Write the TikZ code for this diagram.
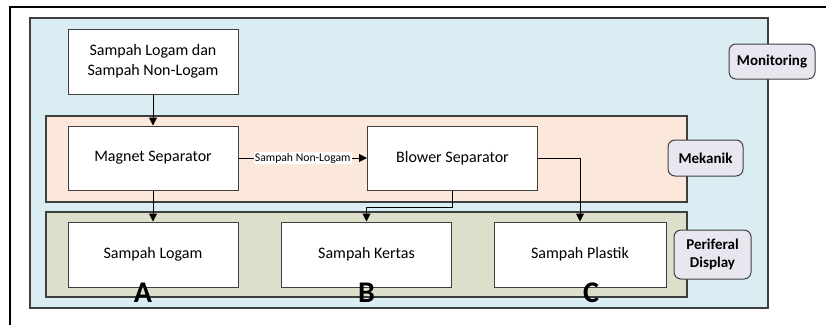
\documentclass[tikz,border=0pt]{standalone}
\usepackage{fontspec}
\setmainfont{Carlito}
\usepackage{tikz}
\usetikzlibrary{arrows.meta,positioning}
\usepackage{xcolor}
\definecolor{zonemon}{HTML}{DAEDF3}
\definecolor{zonemek}{HTML}{FCE8DA}
\definecolor{zoneper}{HTML}{DCE0CA}
\definecolor{tagfill}{HTML}{E8E6EE}
\definecolor{edge}{HTML}{3F3F3F}

\begin{document}
\begin{tikzpicture}[x=1pt, y=-1pt, >={Triangle[length=8pt,width=8pt]},
  blk/.style={draw=edge, fill=white, line width=1pt, minimum width=170pt,
    minimum height=64pt, align=center, inner sep=0pt,
    font=\fontsize{16}{19.5}\selectfont},
  zone/.style={draw=edge, line width=1.2pt},
  tag/.style={draw=edge, fill=tagfill, rounded corners=7pt, line width=1pt,
    align=center, inner sep=0pt, font=\fontsize{15}{17.5}\selectfont\bfseries},
  letter/.style={font=\fontsize{30}{30}\selectfont\bfseries, inner sep=0pt},
  flow/.style={->, draw=black, line width=1pt}]
\useasboundingbox (0,0) rectangle (826,325);
% outer frame, cut at the right and bottom
\draw[line width=2pt] (9.5,325) -- (9.5,6.5) -- (826,6.5);
% zones
\filldraw[zone, fill=zonemon] (30,18) rectangle (768,308);
\filldraw[zone, fill=zonemek] (46,116) rectangle (687,202);
\filldraw[zone, fill=zoneper] (46,212) rectangle (687,297);
% blocks
\node[blk, minimum height=65pt] (src) at (153,61.5) {Sampah Logam dan\\Sampah Non-Logam};
\node[blk] (mag) at (153,158) {Magnet Separator};
\node[blk] (blow) at (452.5,158) {Blower Separator};
\node[blk, minimum height=65pt] (logam) at (153,254.5) {Sampah Logam};
\node[blk, minimum height=65pt] (kertas) at (366.5,254.5) {Sampah Kertas};
\node[blk, minimum height=65pt, minimum width=172pt] (plastik) at (580,254.5) {Sampah Plastik};
% zone tags
\node[tag, minimum width=86pt, minimum height=35pt] (tmon) at (772,61.5) {Monitoring};
\node[tag, minimum width=75pt, minimum height=36pt] (tmek) at (705.5,158) {Mekanik};
\node[tag, minimum width=77pt, minimum height=49pt] (tper) at (712.5,254.5) {Periferal\\Display};
% letters
\node[letter] (la) at (143,293) {A};
\node[letter] (lb) at (366.5,293) {B};
\node[letter] (lc) at (591,293) {C};
% connections
\draw[flow] (src) -- (mag);
\draw[flow] (mag) -- node[fill=white, inner sep=1pt, font=\fontsize{11.7}{13}\selectfont]{Sampah Non-Logam} (blow);
\draw[flow] (mag) -- (logam);
\draw[flow] (blow.south) -- ++(0,17) -| (kertas.north);
\draw[flow] (blow.east) -| (plastik.north);
\end{tikzpicture}
\end{document}
